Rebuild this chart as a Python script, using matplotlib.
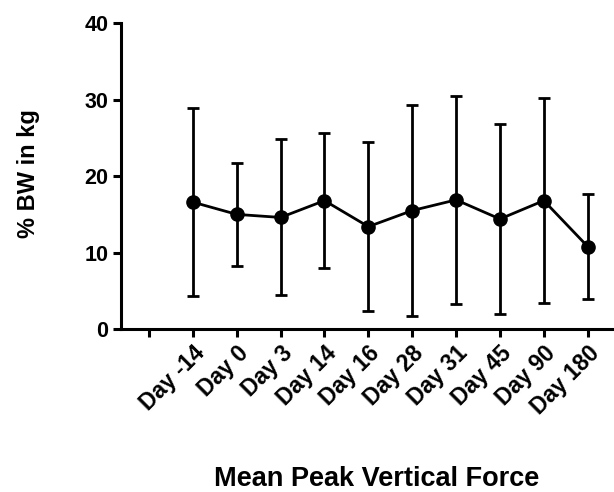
import matplotlib.pyplot as plt
import numpy as np

plt.rcParams['font.family'] = ['Liberation Sans', 'DejaVu Sans']
plt.rcParams['font.weight'] = 'bold'

days = ['Day -14', 'Day 0', 'Day 3', 'Day 14', 'Day 16',
        'Day 28', 'Day 31', 'Day 45', 'Day 90', 'Day 180']
mean_force = [16.6, 15.0, 14.6, 16.8, 13.4, 15.5, 16.9, 14.4, 16.8, 10.8]
sd_force = [12.3, 6.7, 10.2, 8.8, 11.0, 13.8, 13.6, 12.4, 13.4, 6.8]

x = np.arange(1, len(days) + 1)

fig = plt.figure(figsize=(6.14, 4.92), dpi=100)
ax = fig.add_axes([0.197, 0.331, 0.803, 0.622])

ax.errorbar(x, mean_force, yerr=sd_force, color='black', lw=2,
            marker='o', markersize=9.5, capsize=4.5, capthick=2, elinewidth=2)

ax.set_ylim(0, 40)
ax.set_yticks([0, 10, 20, 30, 40])
ax.set_xlim(-0.64, 10.6)
ax.set_xticks(np.arange(0, len(days) + 1))
ax.set_xticklabels([''] + days, rotation=45, ha='right', rotation_mode='anchor')

for s in ['top', 'right']:
    ax.spines[s].set_visible(False)
for s in ['left', 'bottom']:
    ax.spines[s].set_linewidth(2.2)

ax.tick_params(axis='both', width=2.2, length=6, pad=3)
ax.tick_params(axis='x', labelsize=16.5)
ax.tick_params(axis='y', labelsize=15.5)

ax.set_ylabel('% BW in kg', fontsize=17, fontweight='bold')
ax.yaxis.set_label_coords(-0.164, 0.51)
ax.set_xlabel('Mean Peak Vertical Force', fontsize=19.5, fontweight='bold')
ax.xaxis.set_label_coords(0.518, -0.447)

fig.savefig('out.png', dpi=100)
